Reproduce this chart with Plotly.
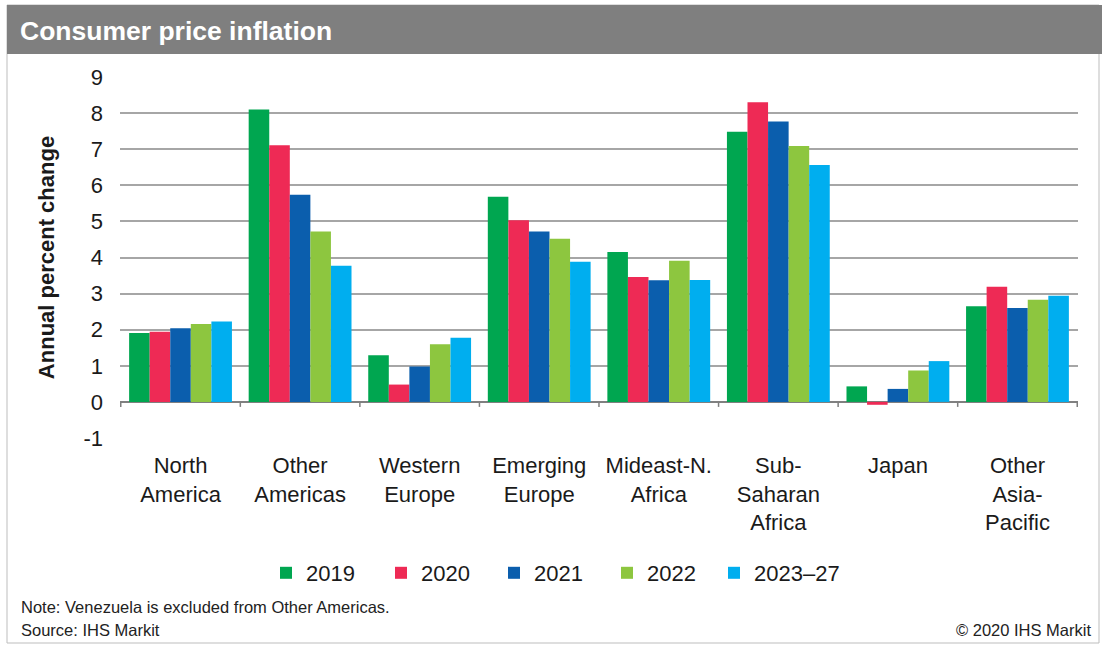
import plotly.graph_objects as go

# Regions along the x axis
regions = [
    "North<br>America",
    "Other<br>Americas",
    "Western<br>Europe",
    "Emerging<br>Europe",
    "Mideast-N.<br>Africa",
    "Sub-<br>Saharan<br>Africa",
    "Japan",
    "Other<br>Asia-<br>Pacific",
]

# Annual percent change, one list per period
cpi_2019 = [1.91, 8.10, 1.29, 5.68, 4.15, 7.48, 0.43, 2.65]
cpi_2020 = [1.94, 7.11, 0.48, 5.03, 3.46, 8.30, -0.08, 3.19]
cpi_2021 = [2.04, 5.74, 0.98, 4.72, 3.37, 7.77, 0.36, 2.60]
cpi_2022 = [2.16, 4.72, 1.60, 4.52, 3.91, 7.09, 0.87, 2.83]
cpi_2023_27 = [2.23, 3.77, 1.78, 3.88, 3.38, 6.56, 1.13, 2.94]

periods = ["2019", "2020", "2021", "2022", "2023\u201327"]
series = [cpi_2019, cpi_2020, cpi_2021, cpi_2022, cpi_2023_27]
colors = ["#00A650", "#EE2A55", "#0B5EAD", "#8DC63F", "#00AEEF"]
# horizontal room given to each legend entry's text
legend_widths = [70, 68, 68, 62, 110]

y_ticks = list(range(-1, 10))

W, H = 1102, 646
ML, MR, MT, MB = 120, 24, 77, 208
PW, PH = W - ML - MR, H - MT - MB


def px_x(px):
    return (px - ML) / PW


def px_y(py):
    return (H - MB - py) / PH


FONT = "Liberation Sans, Arial, sans-serif"
INK = "#1A1A1A"

fig = go.Figure()
for name, vals, col, lw in zip(periods, series, colors, legend_widths):
    fig.add_trace(go.Bar(x=regions, y=vals, name=name, marker_color=col,
                         marker_line_width=0, legendwidth=lw))

shapes = [
    # outer frame
    dict(type="rect", xref="paper", yref="paper",
         x0=px_x(7), x1=px_x(1099), y0=px_y(5), y1=px_y(643),
         line=dict(color="#BDBDBD", width=1), fillcolor="rgba(0,0,0,0)",
         layer="below"),
    # title band
    dict(type="rect", xref="paper", yref="paper",
         x0=px_x(7), x1=px_x(1102), y0=px_y(5), y1=px_y(54),
         line=dict(width=0), fillcolor="#7F7F7F", layer="below"),
]
# small tick marks on the zero line between regions
for i in range(len(regions) + 1):
    shapes.append(dict(type="line", xref="x", yref="y", ysizemode="pixel",
                       yanchor=0, x0=i - 0.5, x1=i - 0.5, y0=0, y1=-5,
                       line=dict(color="#7F7F7F", width=1.5)))

note_font = dict(family=FONT, size=16.5, color="#222222")
annotations = [
    dict(text="<b>Consumer price inflation</b>", xref="paper", yref="paper",
         x=px_x(18), y=px_y(31), xanchor="left", yanchor="middle",
         showarrow=False, font=dict(family=FONT, size=26.5, color="white")),
    dict(text="Note: Venezuela is excluded from Other Americas.",
         xref="paper", yref="paper", x=px_x(19), y=px_y(607),
         xanchor="left", yanchor="middle", showarrow=False, font=note_font),
    dict(text="Source: IHS Markit", xref="paper", yref="paper",
         x=px_x(19), y=px_y(630), xanchor="left", yanchor="middle",
         showarrow=False, font=note_font),
    dict(text="\u00a9 2020 IHS Markit", xref="paper", yref="paper",
         x=px_x(1093), y=px_y(630), xanchor="right", yanchor="middle",
         showarrow=False, font=note_font),
]

fig.update_layout(
    width=W, height=H,
    margin=dict(l=ML, r=MR, t=MT, b=MB, pad=0),
    paper_bgcolor="white", plot_bgcolor="white",
    barmode="group", bargap=0.14, bargroupgap=0,
    font=dict(family=FONT, color=INK),
    showlegend=True,
    legend=dict(orientation="h", x=px_x(266), y=px_y(573),
                xanchor="left", yanchor="middle",
                font=dict(family=FONT, size=22, color=INK),
                bgcolor="rgba(0,0,0,0)"),
    shapes=shapes,
    annotations=annotations,
)

fig.update_xaxes(
    showgrid=False, showline=False, ticks="",
    tickfont=dict(family=FONT, size=22, color=INK),
    ticklabelstandoff=12,
)

fig.update_yaxes(
    range=[-1, 9], tickvals=y_ticks, ticktext=[str(v) for v in y_ticks],
    showgrid=True, gridcolor="#A6A6A6", gridwidth=1.5,
    zeroline=True, zerolinecolor="#808080", zerolinewidth=1.5,
    showline=False, ticks="",
    ticklabelstandoff=16,
    tickfont=dict(family=FONT, size=22, color=INK),
    title=dict(text="<b>Annual percent change</b>", standoff=22,
               font=dict(family=FONT, size=22, color=INK)),
)

fig.write_html("out.html")
